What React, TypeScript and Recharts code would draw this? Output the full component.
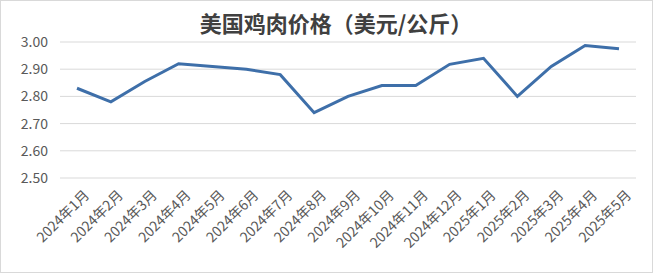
import { LineChart, Line, XAxis, YAxis, CartesianGrid } from "recharts"

const months = [
  "2024年1月", "2024年2月", "2024年3月", "2024年4月", "2024年5月", "2024年6月",
  "2024年7月", "2024年8月", "2024年9月", "2024年10月", "2024年11月", "2024年12月",
  "2025年1月", "2025年2月", "2025年3月", "2025年4月", "2025年5月",
]
const prices = [
  2.83, 2.78, 2.855, 2.92, 2.91, 2.90,
  2.88, 2.74, 2.80, 2.84, 2.84, 2.918,
  2.94, 2.80, 2.91, 2.987, 2.975,
]
const yTicks = [2.5, 2.6, 2.7, 2.8, 2.9, 3.0]

const data = months.map((month, i) => ({ month, price: prices[i] }))

const font = "'Noto Sans CJK SC', 'Noto Sans', sans-serif"

// rotated month label, end of text sits just right of the tick
function MonthTick(props: any) {
  const { x, y, payload } = props
  return (
    <g transform={`translate(${x + 6},${y + 11})`}>
      <text
        textAnchor="end"
        transform="rotate(-45)"
        dy={10}
        fill="#595959"
        fontSize={14}
        fontFamily={font}
      >
        {payload.value}
      </text>
    </g>
  )
}

export default function App() {
  return (
    <div style={{ position: "fixed", left: 0, top: 0, width: 656, height: 274, background: "#fff" }}>
      <div
        style={{
          position: "absolute", left: 0, top: 0, width: 651, height: 271,
          border: "1px solid #d9d9d9", boxSizing: "content-box",
        }}
      />
      <div
        style={{
          position: "absolute", left: 0, top: 8, width: 672, textAlign: "center",
          fontFamily: font, fontWeight: "bold", fontSize: 22, color: "#404040", lineHeight: "28px",
        }}
      >
        美国鸡肉价格（美元/公斤）
      </div>
      <LineChart
        width={656}
        height={274}
        data={data}
        margin={{ top: 42, right: 20, bottom: 6, left: 0 }}
        style={{ position: "absolute", left: 0, top: 0 }}
      >
        <CartesianGrid vertical={false} stroke="#d9d9d9" strokeWidth={1} />
        <XAxis
          dataKey="month"
          interval={0}
          padding={{ left: 17, right: 17 }}
          axisLine={false}
          tickLine={false}
          tickSize={0}
          tickMargin={0}
          height={90}
          tick={<MonthTick />}
        />
        <YAxis
          domain={[2.5, 3.0]}
          ticks={yTicks}
          width={60}
          axisLine={false}
          tickLine={false}
          tickSize={0}
          tickMargin={12}
          tickFormatter={(v: number) => v.toFixed(2)}
          tick={{ fill: "#595959", fontSize: 14, fontFamily: font }}
        />
        <Line
          type="linear"
          dataKey="price"
          stroke="#3e6fa9"
          strokeWidth={3}
          dot={false}
          isAnimationActive={false}
        />
      </LineChart>
    </div>
  )
}
